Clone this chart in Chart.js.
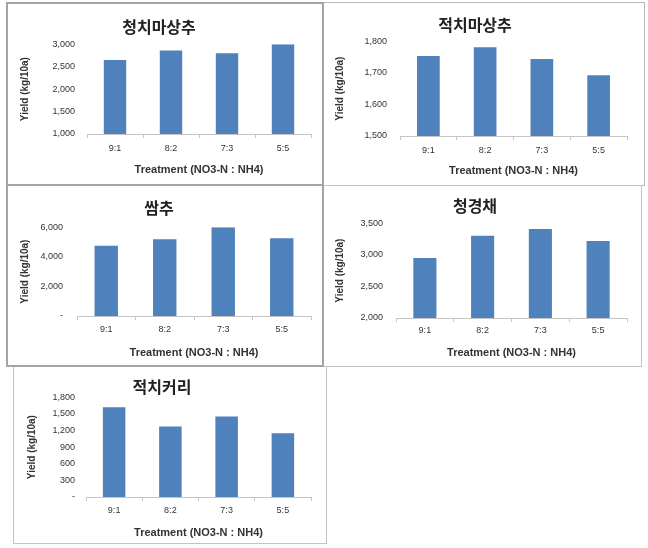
<!DOCTYPE html>
<html>
<head>
<meta charset="utf-8">
<script src="https://cdn.jsdelivr.net/npm/chart.js@4.4.0/dist/chart.umd.min.js"></script>
<style>
    body { margin: 0; background: #fff; width: 648px; height: 548px; position: relative; overflow: hidden; }
    canvas { position: absolute; }
    .frame { position: absolute; box-sizing: border-box; pointer-events: none; }
</style>
</head>
<body>
<canvas id="c1" width="316" height="182" style="left:7px;top:3px"></canvas>
<canvas id="c2" width="322" height="182" style="left:323px;top:3px"></canvas>
<canvas id="c3" width="316" height="181" style="left:7px;top:185px"></canvas>
<canvas id="c4" width="319" height="181" style="left:323px;top:185px"></canvas>
<canvas id="c5" width="314" height="177" style="left:13px;top:366px"></canvas>

<div class="frame" style="left:323px;top:2px;width:322px;height:184px;border:1px solid #b8b8b8"></div>
<div class="frame" style="left:323px;top:185px;width:319px;height:182px;border:1px solid #c4c4c4"></div>
<div class="frame" style="left:13px;top:366px;width:314px;height:178px;border:1px solid #c4c4c4"></div>
<div class="frame" style="left:6px;top:2px;width:318px;height:184px;border:2px solid #a4a4a4"></div>
<div class="frame" style="left:6px;top:184px;width:318px;height:183px;border:2px solid #a4a4a4"></div>

<script>
    // data
    const treatments = ["9:1", "8:2", "7:3", "5:5"];

    const titles = ["청치마상추", "적치마상추", "쌈추", "청경채", "적치커리"];

    const cheongchimaYield = [2650, 2860, 2800, 3000];
    const jeokchimaYield = [1753, 1781, 1744, 1692];
    const ssamchuYield = [4750, 5180, 6000, 5250];
    const cheonggyeongchaeYield = [2950, 3300, 3410, 3220];
    const jeokchicoryYield = [1620, 1270, 1450, 1150];

    const yMins = [1000, 1500, 0, 2000, 0];
    const yMaxs = [3000, 1800, 6000, 3500, 1800];
    const ySteps = [500, 100, 2000, 500, 300];

    const xTitle = "Treatment (NO3-N : NH4)";
    const yTitle = "Yield (kg/10a)";

    const barBlue = "#4f81bd";
    const textColor = "#333333";

    // layout of each panel (pixels inside its canvas)
    const layouts = [
        { padR: 12, padB: 6, xH: 45, yW: 80, tT: 14, tB: 8, xTickPad: 5, xTitlePad: 2, yTickPad: 12, yTitlePad: 12 },
        { padR: 18, padB: 4, xH: 45, yW: 77, tT: 12, tB: 7, xTickPad: 5, xTitlePad: 3, yTickPad: 13, yTitlePad: 11 },
        { padR: 12, padB: 5, xH: 45, yW: 70, tT: 13, tB: 10, xTickPad: 4, xTitlePad: 1, yTickPad: 14, yTitlePad: 12 },
        { padR: 15, padB: 4, xH: 44, yW: 73, tT: 11, tB: 8, xTickPad: 3, xTitlePad: 2, yTickPad: 13, yTitlePad: 11 },
        { padR: 16, padB: 2, xH: 44, yW: 73, tT: 11, tB: 1, xTickPad: 4, xTitlePad: 1, yTickPad: 11, yTitlePad: 13 },
    ];

    const seriesList = [cheongchimaYield, jeokchimaYield, ssamchuYield, cheonggyeongchaeYield, jeokchicoryYield];

    function tickFormat(value) {
        if (value === 0) return "-";
        return value.toLocaleString("en-US");
    }

    function buildChart(index) {
        const g = layouts[index];
        const ctx = document.getElementById("c" + (index + 1)).getContext("2d");

        return new Chart(ctx, {
            type: "bar",
            data: {
                labels: treatments,
                datasets: [
                    {
                        data: seriesList[index],
                        backgroundColor: barBlue,
                        borderWidth: 0,
                        barPercentage: 1,
                        categoryPercentage: 0.4,
                    },
                ],
            },
            options: {
                responsive: false,
                animation: false,
                devicePixelRatio: 1,
                layout: { padding: { left: 0, right: g.padR, top: 0, bottom: g.padB } },
                plugins: {
                    legend: { display: false },
                    tooltip: { enabled: false },
                    title: {
                        display: true,
                        text: titles[index],
                        color: "#222222",
                        font: { family: "'Noto Sans CJK KR'", size: 16, weight: "bold" },
                        padding: { top: g.tT, bottom: g.tB },
                    },
                },
                scales: {
                    x: {
                        grid: { display: true, drawOnChartArea: false, drawTicks: true, tickLength: 4, color: "#c6c6c6" },
                        border: { color: "#c6c6c6" },
                        ticks: {
                            color: textColor,
                            padding: g.xTickPad,
                            font: { family: "'Liberation Sans'", size: 9 },
                        },
                        title: {
                            display: true,
                            text: xTitle,
                            color: textColor,
                            font: { family: "'Liberation Sans'", size: 11, weight: "bold" },
                            padding: { top: 0, bottom: g.xTitlePad },
                        },
                        afterFit: function (scale) {
                            scale.height = g.xH;
                        },
                    },
                    y: {
                        min: yMins[index],
                        max: yMaxs[index],
                        grid: { display: false, drawTicks: false },
                        border: { display: false },
                        ticks: {
                            stepSize: ySteps[index],
                            color: textColor,
                            padding: g.yTickPad,
                            font: { family: "'Liberation Sans'", size: 9 },
                            callback: tickFormat,
                        },
                        title: {
                            display: true,
                            text: yTitle,
                            color: textColor,
                            font: { family: "'Liberation Sans'", size: 10, weight: "bold" },
                            padding: { top: g.yTitlePad, bottom: 0 },
                        },
                        afterFit: function (scale) {
                            scale.width = g.yW;
                        },
                    },
                },
            },
        });
    }

    for (let i = 0; i < 5; i++) {
        buildChart(i);
    }
</script>
</body>
</html>
